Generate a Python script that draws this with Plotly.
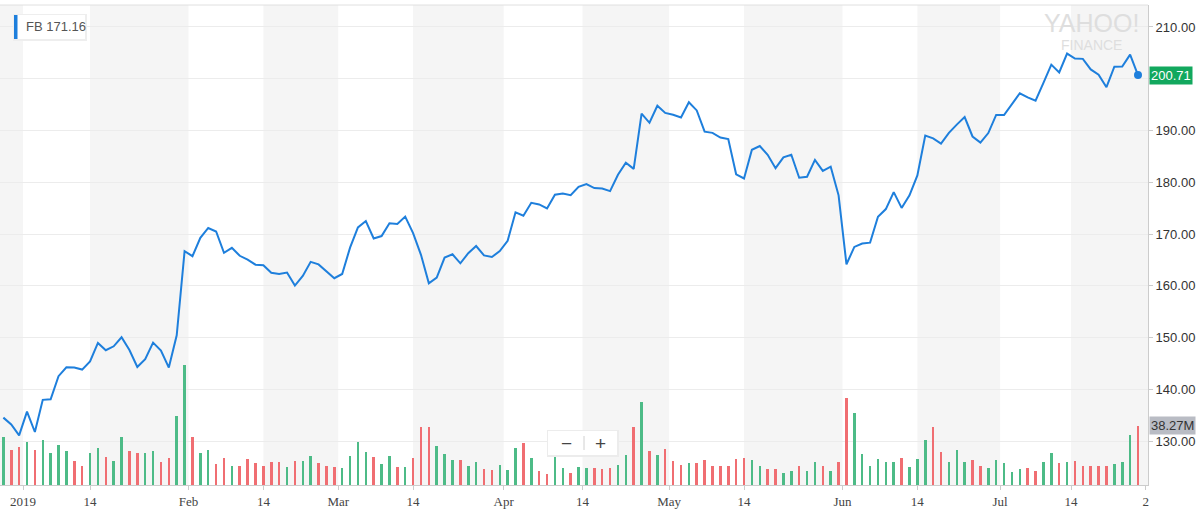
import pandas as pd
import plotly.graph_objects as go

# ---------------- data ----------------
holidays = ["2019-01-01", "2019-01-21", "2019-02-18", "2019-04-19", "2019-05-27", "2019-07-04"]
dates = pd.bdate_range("2018-12-27", "2019-07-25", freq="C", holidays=holidays)

close = [
    134.52, 133.20, 131.09,
    135.68, 131.74, 137.95, 138.05, 142.53, 144.23, 144.20, 143.80, 145.39, 148.95,
    147.54, 148.30, 150.04, 147.57, 144.30, 145.83, 149.01, 147.47, 144.19, 150.42, 166.69,
    165.71, 169.25, 171.16, 170.49, 166.38, 167.33, 165.79, 165.04, 164.07, 163.95,
    162.50, 162.29, 162.56, 160.04, 161.89, 164.62, 164.13, 162.81, 161.45,
    162.28, 167.37, 171.26, 172.51, 169.13, 169.60, 172.07, 171.92, 173.37, 170.17,
    165.98, 160.47, 161.57, 165.44, 166.08, 164.34, 166.29, 167.68, 165.87, 165.55, 166.69,
    168.70, 174.20, 173.54, 176.02, 175.72, 174.93, 177.58, 177.82, 177.51, 179.10,
    179.65, 178.87, 178.78, 178.28, 181.44, 183.78, 182.58, 193.26, 191.49, 194.78, 193.40,
    193.03, 192.53, 195.47, 193.88, 189.77, 189.54, 188.65, 188.34, 181.54, 180.73,
    186.27, 186.99, 185.30, 182.72, 184.82, 185.32, 180.87, 181.06, 184.31, 182.19, 183.01, 177.47,
    164.15, 167.50, 168.17, 168.33, 173.35, 174.82, 178.10, 175.04, 177.47, 181.33,
    189.01, 188.47, 187.48, 189.53, 191.14, 192.60, 188.84, 187.66, 189.50, 193.00,
    193.00, 195.00, 197.20, 196.40, 195.76, 199.21, 202.73, 201.23, 204.87,
    203.91, 203.84, 201.80, 200.78, 198.36, 202.32, 202.36, 204.66, 200.71,
]
prev_close_before_start = 134.18  # close of 2018-12-26

volume_m = [
    30.9, 22.7, 24.8,
    27.9, 22.7, 29.2, 20.6, 25.9, 22.2, 15.8, 12.5, 20.6, 24.2,
    18.0, 15.8, 30.9, 22.2, 20.6, 21.0, 22.2, 15.1, 17.7, 44.8, 77.8,
    31.3, 20.6, 22.7, 13.4, 17.7, 12.5, 12.5, 16.7, 14.1, 12.5,
    15.1, 14.7, 11.9, 15.8, 15.8, 19.0, 14.1, 12.5, 11.5,
    10.8, 19.0, 27.9, 21.6, 18.4, 13.4, 19.0, 11.9, 11.9, 17.7,
    37.4, 37.4, 25.3, 20.1, 16.2, 16.2, 12.3, 15.1, 10.4, 9.7, 13.0,
    9.7, 23.8, 27.0, 17.7, 9.3, 7.1, 19.5, 11.2, 8.0, 11.9,
    10.8, 11.2, 10.2, 11.2, 13.0, 19.5, 37.4, 54.0, 22.1, 19.5, 23.4,
    15.6, 13.0, 14.5, 14.1, 16.2, 12.5, 12.5, 12.5, 16.9, 17.7,
    16.2, 12.5, 10.4, 10.2, 7.6, 9.3, 12.5, 9.1, 14.7, 12.5, 9.1, 15.1,
    56.4, 46.5, 19.9, 12.5, 16.9, 14.7, 15.1, 17.7, 11.9, 16.7,
    29.2, 37.4, 21.6, 14.7, 22.7, 15.1, 16.2, 12.5, 11.2, 16.2,
    14.1, 8.6, 10.2, 11.2, 9.3, 14.7, 20.6, 14.1, 15.1,
    15.8, 12.3, 12.3, 12.3, 12.3, 13.4, 14.7, 32.4, 38.27,
]

tick_dates = ["2019-01-01", "2019-01-14", "2019-02-01", "2019-02-14", "2019-03-01",
              "2019-03-14", "2019-04-01", "2019-04-14", "2019-05-01", "2019-05-14",
              "2019-06-01", "2019-06-14", "2019-07-01", "2019-07-14", "2019-07-26"]
tick_labels = ["2019", "14", "Feb", "14", "Mar", "14", "Apr", "14", "May", "14",
               "Jun", "14", "Jul", "14", "2"]

price_ticks = [130, 140, 150, 160, 170, 180, 190, 200, 210]
hidden_price_labels = [200]  # covered by the last-price badge in the original

ticker_label = "FB 171.16"

# ---------------- derived ----------------
n = len(close)
assert len(dates) == n == len(volume_m)
idx = list(range(n))
prev = [prev_close_before_start] + close[:-1]
GREEN = "#4dbb87"
RED = "#f06e72"
BLUE = "#1e7fdc"
bar_colors = [GREEN if c >= p else RED for c, p in zip(close, prev)]


def tick_pos(s):
    d = pd.Timestamp(s)
    if d > dates[-1]:
        return n
    k = int(dates.searchsorted(d))
    if dates[k] == d and d.day != 1:
        return k
    return k - 0.5


tick_vals = [tick_pos(s) for s in tick_dates]

X0, X1 = -0.427, 145.27
W, H, TOP = 1148, 480, 5


def px(x):
    return x / W


def py(y):
    return (TOP + H - y) / H


fig = go.Figure()
fig.add_trace(go.Bar(x=idx, y=[v * 1e6 for v in volume_m], marker=dict(color=bar_colors, line=dict(width=0)),
                     width=0.32, yaxis="y", hoverinfo="skip"))
fig.add_trace(go.Scatter(x=idx, y=close, mode="lines", line=dict(color=BLUE, width=2),
                         yaxis="y2", hoverinfo="skip"))
fig.add_trace(go.Scatter(x=[idx[-1]], y=[close[-1]], mode="markers",
                         marker=dict(color=BLUE, size=8), yaxis="y2", hoverinfo="skip"))

shapes = []
# alternating background bands
edges = [X0] + tick_vals[:-1] + [X1]
for i in range(len(edges) - 1):
    if i % 2 == 0:
        shapes.append(dict(type="rect", xref="x", yref="paper", x0=edges[i], x1=edges[i + 1],
                           y0=0, y1=1, fillcolor="#f5f5f5", line=dict(width=0), layer="below"))
# top border
shapes.append(dict(type="line", xref="paper", yref="paper", x0=0, x1=1, y0=1, y1=1,
                   line=dict(color="#e0e0e0", width=1)))
# legend box (shadow + box + colour bar)
shapes.append(dict(type="rect", xref="paper", yref="paper", x0=px(13), x1=px(87), y0=py(41), y1=py(14),
                   fillcolor="#eeeeee", line=dict(width=0), layer="above"))
shapes.append(dict(type="rect", xref="paper", yref="paper", x0=px(14), x1=px(85), y0=py(39), y1=py(15),
                   fillcolor="white", line=dict(width=0), layer="above"))
shapes.append(dict(type="rect", xref="paper", yref="paper", x0=px(14), x1=px(17.5), y0=py(39), y1=py(15),
                   fillcolor=BLUE, line=dict(width=0), layer="above"))
# zoom buttons
shapes.append(dict(type="rect", xref="paper", yref="paper", x0=px(547), x1=px(619), y0=py(457), y1=py(430),
                   fillcolor="#ececec", line=dict(width=0), layer="above"))
shapes.append(dict(type="rect", xref="paper", yref="paper", x0=px(548), x1=px(617), y0=py(455), y1=py(431),
                   fillcolor="white", line=dict(width=0), layer="above"))
shapes.append(dict(type="line", xref="paper", yref="paper", x0=px(584), x1=px(584), y0=py(450), y1=py(436),
                   line=dict(color="#d0d0d0", width=1), layer="above"))

annotations = [
    dict(xref="paper", yref="paper", x=px(24), y=py(27), xanchor="left", yanchor="middle",
         text=ticker_label, showarrow=False, font=dict(family="Liberation Sans", size=13, color="#555")),
    dict(xref="paper", yref="paper", x=px(566), y=py(443), xanchor="center", yanchor="middle",
         text="\u2212", showarrow=False, font=dict(family="Liberation Sans", size=19, color="#444")),
    dict(xref="paper", yref="paper", x=px(600), y=py(443), xanchor="center", yanchor="middle",
         text="+", showarrow=False, font=dict(family="Liberation Sans", size=19, color="#444")),
    dict(xref="paper", yref="paper", x=px(1091), y=py(23), xanchor="center", yanchor="middle",
         text="YAHOO!", showarrow=False, font=dict(family="Liberation Sans", size=25, color="#dedede")),
    dict(xref="paper", yref="paper", x=px(1091), y=py(45), xanchor="center", yanchor="middle",
         text="FINANCE", showarrow=False, font=dict(family="Liberation Sans", size=14, color="#dedede")),
    dict(xref="paper", yref="y2", x=1, y=close[-1], xanchor="left", yanchor="middle", xshift=1,
         text=f"{close[-1]:.2f}", showarrow=False, bgcolor="#12a85e", borderpad=1,
         font=dict(family="Liberation Sans", size=13, color="white")),
    dict(xref="paper", yref="y", x=1, y=volume_m[-1] * 1e6, xanchor="left", yanchor="middle", xshift=1,
         text=f"{volume_m[-1]:.2f}M", showarrow=False, bgcolor="#b9bcc4", borderpad=1,
         font=dict(family="Liberation Sans", size=13, color="#333")),
]

fig.update_layout(
    width=1200, height=509,
    margin=dict(l=0, r=52, t=TOP, b=24, pad=0),
    paper_bgcolor="white", plot_bgcolor="white",
    showlegend=False, bargap=0, hovermode=False,
    shapes=shapes, annotations=annotations,
    xaxis=dict(range=[X0, X1], tickmode="array", tickvals=tick_vals, ticktext=tick_labels,
               ticks="outside", ticklen=4, tickcolor="#cccccc", showline=True, linecolor="#cccccc",
               showgrid=False, zeroline=False, fixedrange=True,
               tickfont=dict(family="Liberation Serif", size=13, color="#444")),
    yaxis=dict(range=[0, 311.3e6], visible=False, fixedrange=True, showgrid=False, zeroline=False),
    yaxis2=dict(overlaying="y", side="right", range=[121.5, 214.25], tickmode="array",
                tickvals=price_ticks,
                ticktext=["" if v in hidden_price_labels else f"{v:.2f}" for v in price_ticks],
                ticks="outside", ticklen=4, tickcolor="#cccccc", showline=True, linecolor="#cccccc",
                showgrid=True, gridcolor="#ececec", zeroline=False, fixedrange=True,
                tickfont=dict(family="Liberation Sans", size=13, color="#333")),
)

fig.write_html("out.html", config={"displayModeBar": False},
               post_script="document.body.style.margin='0';")
